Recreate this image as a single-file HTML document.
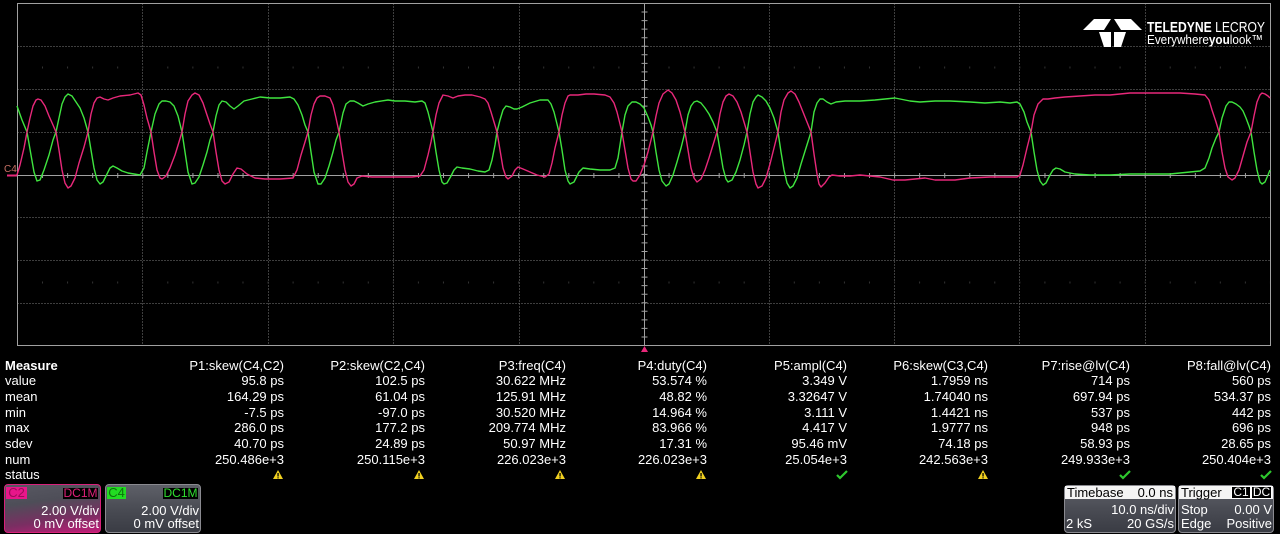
<!DOCTYPE html>
<html><head><meta charset="utf-8"><style>
html,body{margin:0;padding:0;background:#000;}
body{width:1280px;height:534px;position:relative;overflow:hidden;font-family:"Liberation Sans",Arial,sans-serif;color:#fff;}
.t{position:absolute;font-size:13px;line-height:16px;white-space:nowrap;}
.col{position:absolute;width:150px;text-align:right;font-size:13px;line-height:15.7px;white-space:nowrap;top:357.5px;}
.lab{position:absolute;left:5px;top:357.5px;font-size:13px;line-height:15.7px;}
.box{position:absolute;box-sizing:border-box;border-radius:4px;overflow:hidden;}
.bt{position:absolute;font-size:13px;line-height:14px;white-space:nowrap;}
</style></head><body>
<svg width="1280" height="360" style="position:absolute;left:0;top:0" xmlns="http://www.w3.org/2000/svg">
<g stroke="#7c7c7c" stroke-width="1" stroke-dasharray="1 2" fill="none">
<line x1="142.5" y1="3.5" x2="142.5" y2="345.5"/>
<line x1="268.5" y1="3.5" x2="268.5" y2="345.5"/>
<line x1="393.5" y1="3.5" x2="393.5" y2="345.5"/>
<line x1="519.5" y1="3.5" x2="519.5" y2="345.5"/>
<line x1="769.5" y1="3.5" x2="769.5" y2="345.5"/>
<line x1="894.5" y1="3.5" x2="894.5" y2="345.5"/>
<line x1="1019.5" y1="3.5" x2="1019.5" y2="345.5"/>
<line x1="1145.5" y1="3.5" x2="1145.5" y2="345.5"/>
<line x1="17.5" y1="46.5" x2="1270.5" y2="46.5"/>
<line x1="17.5" y1="89.5" x2="1270.5" y2="89.5"/>
<line x1="17.5" y1="132.5" x2="1270.5" y2="132.5"/>
<line x1="17.5" y1="217.5" x2="1270.5" y2="217.5"/>
<line x1="17.5" y1="260.5" x2="1270.5" y2="260.5"/>
<line x1="17.5" y1="303.5" x2="1270.5" y2="303.5"/>
</g>
<g stroke="#333" stroke-width="2" stroke-dasharray="1 24.06" fill="none">
<line x1="42" y1="67.5" x2="1270" y2="67.5"/>
<line x1="42" y1="282.5" x2="1270" y2="282.5"/>
</g>
<rect x="17.5" y="3.5" width="1253" height="342" fill="none" stroke="#a0a0a0" stroke-width="1"/>
<line x1="17.5" y1="175.5" x2="1270.5" y2="175.5" stroke="#a0a0a0" stroke-width="1"/>
<line x1="644.5" y1="3.5" x2="644.5" y2="345.5" stroke="#a0a0a0" stroke-width="1"/>
<line x1="17" y1="175.5" x2="1271" y2="175.5" stroke="#a0a0a0" stroke-width="5" stroke-dasharray="1 24.06"/>
<line x1="644.5" y1="3" x2="644.5" y2="346" stroke="#a0a0a0" stroke-width="6" stroke-dasharray="1 7.55"/>

<!-- green trace C4 -->
<path fill="none" stroke="#3fe43f" stroke-width="1.4" stroke-linejoin="round" d="M17,106 L22,120 L27,132 L31,155 L34,172 L37,181 L40,180 L44,170 L49,155 L53,140 L56,132 L59,118 L62,104 L65,97 L68,94 L72,96 L76,102 L80,108 L84,118 L88,132 L91,150 L94,168 L97,180 L100,184 L103,182 L107,174 L110,168 L113,166 L117,168 L122,171 L128,173 L134,174 L140,175 L144,168 L147,152 L151,132 L155,114 L159,104 L162,101 L166,101 L170,102 L174,106 L178,116 L182,132 L185,152 L188,172 L192,184 L195,183 L199,177 L203,165 L207,152 L210,140 L213,132 L216,116 L219,105 L222,101 L226,102 L230,106 L234,109 L238,106 L244,101 L252,99 L260,97 L270,98 L280,98 L290,97 L294,99 L298,105 L302,115 L305,125 L308,132 L311,152 L314,172 L318,184 L321,184 L325,178 L329,166 L333,152 L336,140 L339,132 L343,113 L346,104 L350,101 L354,101 L358,103 L363,106 L368,104 L375,102 L388,100 L395,101 L405,101 L415,102 L422,101 L425,103 L428,112 L431,124 L433,132 L436,152 L439,170 L442,182 L444,184 L447,183 L451,176 L454,170 L457,167 L462,168 L470,169 L478,171 L485,172 L489,170 L492,160 L495,145 L497,132 L500,120 L503,110 L506,106 L510,107 L514,109 L517,109 L522,107 L530,103 L540,100 L548,100 L551,104 L554,112 L557,124 L559,132 L562,150 L565,170 L568,181 L570,184 L574,182 L579,172 L583,168 L590,169 L600,170 L610,170 L615,168 L618,158 L620,145 L622,132 L625,115 L628,106 L632,102 L636,102 L640,104 L644,108 L648,117 L651,125 L653,132 L656,152 L659,170 L662,181 L666,186 L669,184 L673,175 L677,162 L681,148 L685,132 L688,115 L691,106 L694,102 L697,101 L701,103 L705,108 L709,114 L713,122 L717,132 L720,150 L723,168 L726,179 L728,182 L732,180 L736,172 L740,160 L744,145 L747,132 L750,114 L753,102 L756,97 L758,95 L762,97 L766,101 L770,108 L774,118 L778,132 L781,152 L784,170 L787,183 L790,188 L793,186 L797,178 L801,164 L806,148 L811,132 L814,112 L817,103 L820,99 L823,99 L827,102 L831,104 L836,102 L845,101 L860,101 L875,100 L895,98 L910,101 L920,102 L935,101 L950,101 L970,102 L985,103 L1000,102 L1010,103 L1017,102 L1020,104 L1024,112 L1027,122 L1031,132 L1034,152 L1037,170 L1040,181 L1043,185 L1046,183 L1050,175 L1053,170 L1056,168 L1060,169 L1065,172 L1075,174 L1090,175 L1110,175 L1130,174 L1150,174 L1170,174 L1190,172 L1200,171 L1205,168 L1209,158 L1212,148 L1216,138 L1219,132 L1222,118 L1226,106 L1229,102 L1232,102 L1236,104 L1240,107 L1243,111 L1246,118 L1249,126 L1251,132 L1254,152 L1257,170 L1260,182 L1262,184 L1265,182 L1268,175 L1270,170"/>

<!-- red trace C2 -->
<path fill="none" stroke="#e8287a" stroke-width="1.4" stroke-linejoin="round" d="M17,175 L20,165 L24,148 L27,132 L30,118 L33,106 L36,100 L38,99 L41,100 L45,106 L49,116 L53,125 L56,132 L59,150 L62,170 L65,183 L68,188 L71,186 L75,178 L79,163 L84,147 L88,132 L91,114 L94,103 L97,98 L100,97 L104,99 L108,100 L113,98 L120,96 L130,95 L138,93 L141,95 L144,105 L147,118 L151,132 L154,152 L157,170 L160,178 L162,179 L166,176 L170,168 L175,155 L179,142 L182,132 L185,114 L188,101 L192,95 L195,93 L199,95 L203,103 L207,115 L210,124 L213,132 L216,152 L219,170 L222,181 L225,184 L229,182 L233,174 L237,168 L241,169 L247,174 L255,178 L265,179 L280,179 L293,178 L297,170 L301,155 L305,142 L308,132 L311,115 L314,104 L317,98 L320,96 L325,96 L330,98 L333,105 L336,118 L339,132 L342,152 L345,170 L348,182 L351,186 L354,184 L357,178 L362,176 L372,177 L385,177 L400,177 L412,177 L420,176 L424,170 L428,155 L431,142 L433,132 L436,115 L439,103 L443,95 L448,96 L453,98 L458,96 L465,95 L472,95 L480,97 L485,99 L488,103 L491,112 L494,122 L497,132 L500,150 L503,168 L506,177 L508,179 L512,176 L515,170 L518,167 L523,169 L530,172 L537,175 L545,177 L549,174 L552,163 L555,148 L559,132 L562,115 L565,103 L568,96 L570,95 L578,95 L586,94 L594,94 L605,95 L610,97 L614,103 L617,112 L620,124 L622,132 L625,150 L628,168 L631,179 L633,181 L636,181 L640,175 L644,165 L648,152 L651,140 L653,132 L656,116 L659,103 L663,94 L668,90 L672,93 L676,100 L680,112 L683,124 L685,132 L688,150 L691,168 L694,178 L697,182 L701,179 L705,170 L709,158 L713,145 L717,132 L720,114 L723,102 L726,96 L729,94 L733,96 L737,102 L741,112 L744,122 L747,132 L750,152 L753,172 L756,184 L758,188 L762,186 L766,178 L770,164 L774,148 L778,132 L781,112 L784,100 L788,93 L791,91 L795,94 L799,102 L803,112 L807,122 L811,132 L814,154 L817,174 L819,184 L821,187 L825,183 L829,177 L832,175 L840,176 L850,176 L860,175 L870,176 L880,177 L893,180 L905,180 L915,179 L925,178 L935,180 L945,180 L955,180 L970,178 L990,177 L1005,177 L1017,177 L1020,175 L1023,165 L1027,148 L1031,132 L1034,115 L1038,104 L1043,99 L1048,99 L1055,98 L1065,97 L1080,96 L1095,95 L1110,95 L1130,93 L1150,93 L1165,93 L1180,93 L1195,94 L1205,95 L1209,100 L1212,110 L1216,122 L1219,132 L1222,152 L1225,168 L1228,177 L1232,180 L1235,178 L1239,170 L1243,156 L1247,142 L1251,132 L1254,116 L1257,102 L1260,95 L1262,93 L1265,94 L1268,96 L1270,98"/>

<!-- C4 label & marker -->
<text x="4" y="172" font-family="Liberation Sans, Arial, sans-serif" font-size="10" fill="#c87064">C4</text>
<line x1="7" y1="175.5" x2="17" y2="175.5" stroke="#e8287a" stroke-width="2"/>
<!-- trigger marker -->
<polygon points="641,352 648,352 644.5,346" fill="#e8287a"/>

<!-- logo -->
<g fill="#ffffff">
<polygon points="1083,30 1094,19 1111,19 1104,30"/>
<polygon points="1142,30 1131,19 1114,19 1121,30"/>
<polygon points="1099,32 1111,32 1111,47 1104,47"/>
<polygon points="1126,32 1114,32 1114,47 1121,47"/>
</g>
<text x="1147" y="32" font-family="Liberation Sans, Arial, sans-serif" font-size="15" fill="#fff" textLength="118" lengthAdjust="spacingAndGlyphs"><tspan font-weight="bold">TELEDYNE</tspan> LECROY</text>
<text x="1147" y="44" font-family="Liberation Sans, Arial, sans-serif" font-size="13" fill="#fff" textLength="116" lengthAdjust="spacingAndGlyphs">Everywhere<tspan font-weight="bold">you</tspan>look™</text>
</svg>

<!-- Measure table -->
<div class="lab"><b>Measure</b><br>value<br>mean<br>min<br>max<br>sdev<br>num<br>status</div>
<div class="col" style="left:134px">P1:skew(C4,C2)<br>95.8 ps<br>164.29 ps<br>-7.5 ps<br>286.0 ps<br>40.70 ps<br>250.486e+3</div>
<div class="col" style="left:275px">P2:skew(C2,C4)<br>102.5 ps<br>61.04 ps<br>-97.0 ps<br>177.2 ps<br>24.89 ps<br>250.115e+3</div>
<div class="col" style="left:416px">P3:freq(C4)<br>30.622 MHz<br>125.91 MHz<br>30.520 MHz<br>209.774 MHz<br>50.97 MHz<br>226.023e+3</div>
<div class="col" style="left:557px">P4:duty(C4)<br>53.574 %<br>48.82 %<br>14.964 %<br>83.966 %<br>17.31 %<br>226.023e+3</div>
<div class="col" style="left:697px">P5:ampl(C4)<br>3.349 V<br>3.32647 V<br>3.111 V<br>4.417 V<br>95.46 mV<br>25.054e+3</div>
<div class="col" style="left:838px">P6:skew(C3,C4)<br>1.7959 ns<br>1.74040 ns<br>1.4421 ns<br>1.9777 ns<br>74.18 ps<br>242.563e+3</div>
<div class="col" style="left:980px">P7:rise@lv(C4)<br>714 ps<br>697.94 ps<br>537 ps<br>948 ps<br>58.93 ps<br>249.933e+3</div>
<div class="col" style="left:1121px">P8:fall@lv(C4)<br>560 ps<br>534.37 ps<br>442 ps<br>696 ps<br>28.65 ps<br>250.404e+3</div>

<!-- status icons -->
<svg width="1280" height="20" style="position:absolute;left:0;top:468px" xmlns="http://www.w3.org/2000/svg">
<defs>
<g id="w"><polygon points="0,-5 5,4 -5,4" fill="#f0d020"/><rect x="-0.6" y="-2" width="1.3" height="3.5" fill="#000"/><rect x="-0.6" y="2.3" width="1.3" height="1.1" fill="#000"/></g>
<g id="c"><path d="M-5,0 L-2,3 L5,-4" fill="none" stroke="#2ec82e" stroke-width="2.2"/></g>
</defs>
<use href="#w" x="278" y="7"/>
<use href="#w" x="419" y="7"/>
<use href="#w" x="560" y="7"/>
<use href="#w" x="701" y="7"/>
<use href="#c" x="842" y="7"/>
<use href="#w" x="983" y="7"/>
<use href="#c" x="1125" y="7"/>
<use href="#c" x="1266" y="7"/>
</svg>

<!-- C2 box -->
<div class="box" style="left:4px;top:484px;width:97px;height:49px;border:1px solid #d8207a;background:linear-gradient(172deg,#585862 0%,#4e4e58 35%,#7a2e62 70%,#c01e78 100%);"></div>
<div class="bt" style="left:6px;top:487px;width:21px;height:12px;line-height:12px;background:#e8168a;color:#9a0c58;text-align:center;">C2</div>
<div class="bt" style="left:63px;top:488px;width:35px;height:11px;line-height:11px;background:#000;color:#e0207a;font-size:12px;text-align:center;">DC1M</div>
<div class="bt" style="left:4px;width:95px;text-align:right;top:503.5px;">2.00 V/div</div>
<div class="bt" style="left:4px;width:95px;text-align:right;top:517px;">0 mV offset</div>

<!-- C4 box -->
<div class="box" style="left:105px;top:484px;width:96px;height:49px;border:1px solid #8a8a90;background:linear-gradient(to bottom,#5e6068 0%,#4a4c54 50%,#3a3c44 100%);"></div>
<div class="bt" style="left:107px;top:487px;width:19px;height:12px;line-height:12px;background:#22dd22;color:#0e700e;text-align:center;">C4</div>
<div class="bt" style="left:163px;top:488px;width:35px;height:11px;line-height:11px;background:#000;color:#30e030;font-size:12px;text-align:center;">DC1M</div>
<div class="bt" style="left:105px;width:94px;text-align:right;top:503.5px;">2.00 V/div</div>
<div class="bt" style="left:105px;width:94px;text-align:right;top:517px;">0 mV offset</div>

<!-- Timebase box -->
<div class="box" style="left:1064px;top:485px;width:112px;height:48px;border:1px solid #8a8a90;background:linear-gradient(to bottom,#5e6068 0%,#4a4c54 50%,#3a3c44 100%);"></div>
<div style="position:absolute;left:1065px;top:486px;width:110px;height:13px;background:#f4f4f4;"></div>
<div class="bt" style="left:1067px;top:485.5px;color:#000;">Timebase</div>
<div class="bt" style="left:1065px;width:108px;text-align:right;top:485.5px;color:#000;">0.0 ns</div>
<div class="bt" style="left:1065px;width:109px;text-align:right;top:502.5px;">10.0 ns/div</div>
<div class="bt" style="left:1066px;top:516.5px;">2 kS</div>
<div class="bt" style="left:1065px;width:109px;text-align:right;top:516.5px;">20 GS/s</div>

<!-- Trigger box -->
<div class="box" style="left:1178px;top:485px;width:96px;height:48px;border:1px solid #8a8a90;background:linear-gradient(to bottom,#5e6068 0%,#4a4c54 50%,#3a3c44 100%);"></div>
<div style="position:absolute;left:1179px;top:486px;width:94px;height:13px;background:#f4f4f4;"></div>
<div class="bt" style="left:1181px;top:485.5px;color:#000;">Trigger</div>
<div class="bt" style="left:1232px;top:487px;width:18px;height:11px;line-height:11px;background:#000;color:#fff;font-size:12px;text-align:center;outline:1px solid #fff;">C1</div>
<div class="bt" style="left:1252px;top:487px;width:19px;height:11px;line-height:11px;background:#000;color:#fff;font-size:12px;text-align:center;outline:1px solid #fff;">DC</div>
<div class="bt" style="left:1181px;top:502.5px;">Stop</div>
<div class="bt" style="left:1179px;width:93px;text-align:right;top:502.5px;">0.00 V</div>
<div class="bt" style="left:1181px;top:516.5px;">Edge</div>
<div class="bt" style="left:1179px;width:93px;text-align:right;top:516.5px;">Positive</div>
</body></html>
